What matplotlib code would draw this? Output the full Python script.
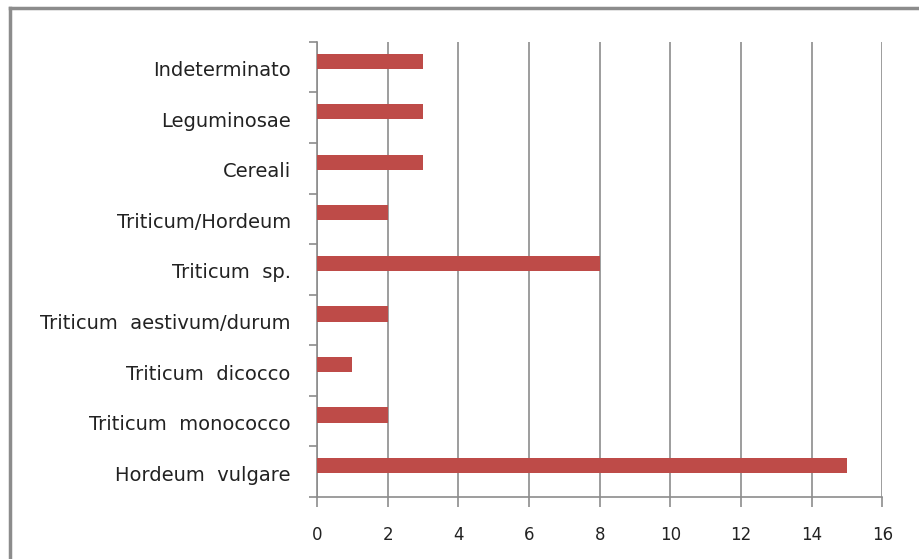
import matplotlib.pyplot as plt
from matplotlib.lines import Line2D
import numpy as np

# reperti carpologici, dal basso verso l'alto
taxa = ["Hordeum  vulgare", "Triticum  monococco", "Triticum  dicocco",
        "Triticum  aestivum/durum", "Triticum  sp.", "Triticum/Hordeum",
        "Cereali", "Leguminosae", "Indeterminato"]
counts = [15, 2, 1, 2, 8, 2, 3, 3, 3]
xticks = [0, 2, 4, 6, 8, 10, 12, 14, 16]

bar_color = "#BE4B48"
grey = "#8C8C8C"

fig = plt.figure(figsize=(9.19, 5.59), dpi=100)
ax = fig.add_axes([0.345, 0.111, 0.615, 0.814])

pos = np.arange(len(taxa))
ax.barh(pos + 0.12, counts, height=0.3, color=bar_color, zorder=3)

ax.set_xlim(0, 16)
ax.set_ylim(-0.5, len(taxa) - 0.5)
ax.set_xticks(xticks)
ax.set_xticklabels([str(t) for t in xticks], fontsize=12, color="#222222")

# etichette al centro, tacche ai bordi delle categorie
ax.set_yticks(pos - 0.03)
ax.set_yticklabels(taxa, fontsize=14, color="#222222")
ax.set_yticks(np.arange(len(taxa) + 1) - 0.5, minor=True)
ax.tick_params(axis="y", which="major", length=0, pad=19)
ax.tick_params(axis="y", which="minor", length=6, width=1.2, color=grey)
ax.tick_params(axis="x", length=7, width=1.2, color=grey, pad=14)

ax.grid(axis="x", color=grey, linewidth=1.2, zorder=0)
for side in ["top", "right"]:
    ax.spines[side].set_visible(False)
for side in ["left", "bottom"]:
    ax.spines[side].set_color(grey)
    ax.spines[side].set_linewidth(1.2)

# cornice esterna
fig.add_artist(Line2D([10 / 919, 10 / 919], [0, 1 - 8 / 559],
                      transform=fig.transFigure, color=grey, lw=2.5))
fig.add_artist(Line2D([10 / 919, 1], [1 - 8 / 559, 1 - 8 / 559],
                      transform=fig.transFigure, color=grey, lw=2.5))

fig.savefig("out.png", dpi=100)
